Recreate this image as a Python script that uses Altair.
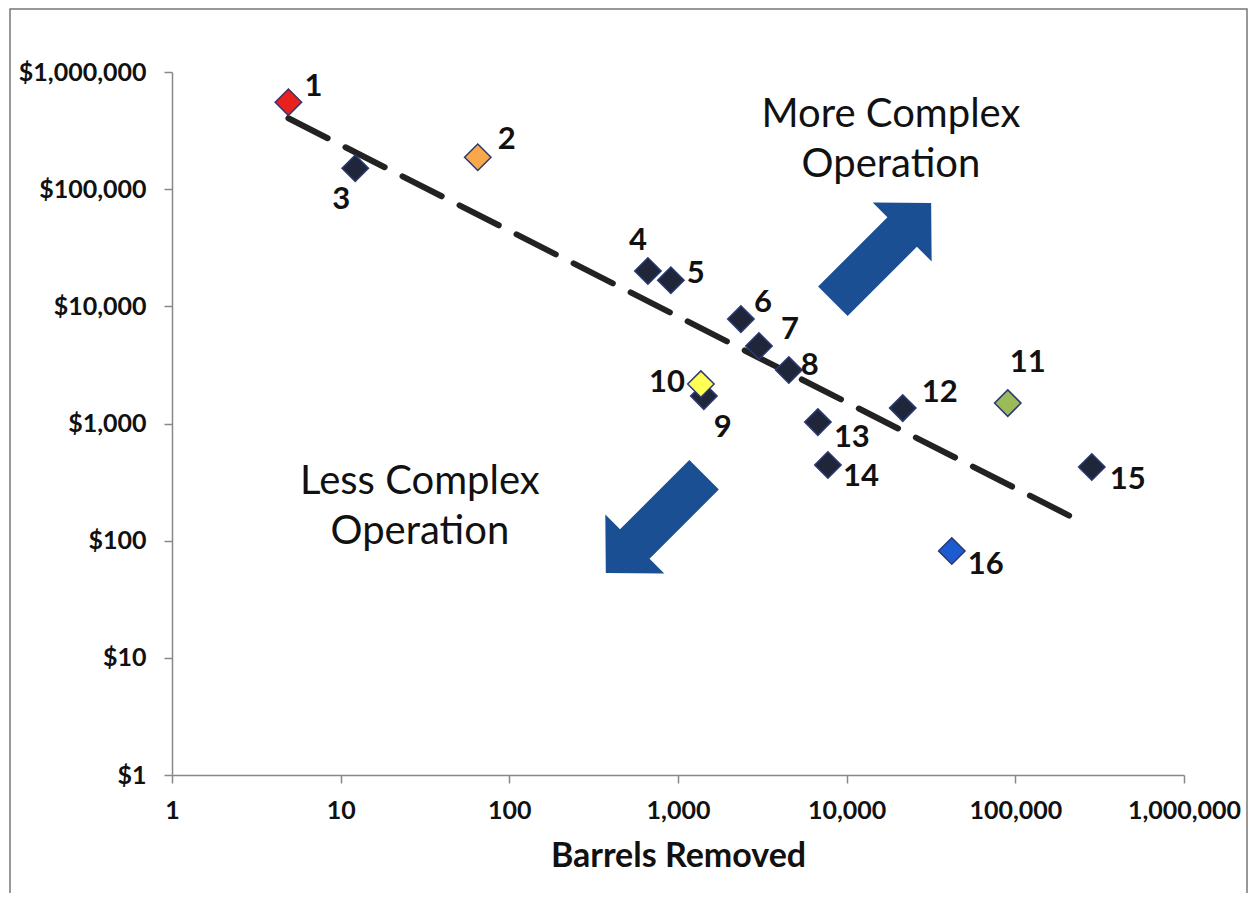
import altair as alt
import pandas as pd

# ---- data ----
ids = [str(i) for i in range(1, 17)]
barrels = [4.9, 65, 12.2, 663, 907, 2360, 3020, 4540, 1423, 1367, 90200, 21500, 6750, 7740, 284000, 42000]
cost = [552000, 187000, 151000, 20000, 16700, 7780, 4580, 2857, 1713, 2170, 1493, 1353, 1028, 442, 425, 81.5]
fills = ["#E8201E", "#F8A84A", "#20263A", "#20263A", "#20263A", "#20263A", "#20263A", "#20263A",
         "#20263A", "#FFFF55", "#9BBB59", "#20263A", "#20263A", "#20263A", "#20263A", "#1E5BD0"]
# label offsets in pixels (dx, dy) from each marker
label_dx = [25, 29, -14, -10, 25, 22, 31, 21, 19, -34, 20, 37, 34, 33, 36, 34]
label_dy = [-15, -17, 32, -30, -6, -16, -16, -4, 32, -1, -40, -15, 16, 12, 13, 14]

trend_x = [4.9, 235000]
trend_y = [403000, 150]

arrow_x = [16200, 730]
arrow_y = [29000, 139]
arrow_angle = [315, 135]

note_text = ["More Complex\nOperation", "Less Complex\nOperation"]
note_x = [18300, 29.5]
note_y = [429000, 317]

ticks = [1, 10, 100, 1000, 10000, 100000, 1000000]

W, H = 1012, 703
DEC_X = W / 6.0
DEC_Y = H / 6.0

pts = pd.DataFrame({"id": ids, "barrels": barrels, "cost": cost, "fill": fills,
                    "dx": label_dx, "dy": label_dy})
trend = pd.DataFrame({"barrels": trend_x, "cost": trend_y})
arrows = pd.DataFrame({"barrels": arrow_x, "cost": arrow_y, "angle": arrow_angle})
notes = pd.DataFrame({"barrels": note_x, "cost": note_y, "text": note_text})
frame = pd.DataFrame({"k": [0]})

xscale = alt.Scale(type="log", domain=[1, 1000000], nice=False)
yscale = alt.Scale(type="log", domain=[1, 1000000], nice=False)

xaxis = alt.Axis(values=ticks, format=",d", title="Barrels Removed", grid=False,
                 labelFont="Lato", labelFontWeight="bold", labelFontSize=25, labelColor="#111",
                 labelPadding=15, tickSize=8, tickColor="#888", tickWidth=1.5,
                 domainColor="#888", domainWidth=1.5, labelFlush=False, labelOverlap=False,
                 titleFont="Lato", titleFontWeight="bold", titleFontSize=34, titleColor="#111",
                 titlePadding=16)
yaxis = alt.Axis(values=ticks, format="$,d", title=None, grid=False,
                 labelFont="Lato", labelFontWeight="bold", labelFontSize=25, labelColor="#111",
                 labelPadding=18, tickSize=8, tickColor="#888", tickWidth=1.5,
                 domainColor="#888", domainWidth=1.5, labelFlush=False, labelOverlap=False)

border = alt.Chart(frame).mark_rect(fillOpacity=0, stroke="#777", strokeWidth=1.5).encode(
    x=alt.value(-162), x2=alt.value(1075), y=alt.value(-63), y2=alt.value(840))

line = alt.Chart(trend).mark_line(color="#222", strokeWidth=6, strokeDash=[44, 20],
                                  strokeCap="round").encode(
    x=alt.X("barrels:Q", scale=xscale, axis=xaxis),
    y=alt.Y("cost:Q", scale=yscale, axis=yaxis))

arrow_path = "M -1 -0.3 L 0.41 -0.3 L 0.41 -0.6 L 1 0 L 0.41 0.6 L 0.41 0.3 L -1 0.3 Z"
arr = alt.Chart(arrows).mark_point(shape=arrow_path, filled=True, size=139 * 139,
                                   color="#1B4F93", opacity=1).encode(
    x=alt.X("barrels:Q", scale=xscale),
    y=alt.Y("cost:Q", scale=yscale),
    angle=alt.Angle("angle:Q", scale=None))

note = alt.Chart(notes).mark_text(font="Lato", fontSize=40, lineBreak="\n", lineHeight=50,
                                  color="#111", align="center", baseline="middle").encode(
    x=alt.X("barrels:Q", scale=xscale),
    y=alt.Y("cost:Q", scale=yscale),
    text="text:N")

points = alt.Chart(pts).mark_point(shape="diamond", filled=True, size=700, stroke="#2B3A72",
                                   strokeWidth=1.5, opacity=1).encode(
    x=alt.X("barrels:Q", scale=xscale),
    y=alt.Y("cost:Q", scale=yscale),
    fill=alt.Fill("fill:N", scale=None))

labels = alt.Chart(pts).transform_calculate(
    lx=f"datum.barrels * pow(10, datum.dx / {DEC_X})",
    ly=f"datum.cost * pow(10, -datum.dy / {DEC_Y})"
).mark_text(font="Lato", fontWeight="bold", fontSize=31, color="#111",
            align="center", baseline="middle").encode(
    x=alt.X("lx:Q", scale=xscale),
    y=alt.Y("ly:Q", scale=yscale),
    text="id:N")

chart = alt.layer(border, line, arr, note, points, labels).properties(
    width=W, height=H,
    autosize=alt.AutoSizeParams(type="none"),
    padding={"left": 164, "top": 64, "right": 65, "bottom": 118},
    background="white"
).configure_view(stroke=None)

chart.save("out.html", embed_options={"renderer": "svg", "actions": False})
